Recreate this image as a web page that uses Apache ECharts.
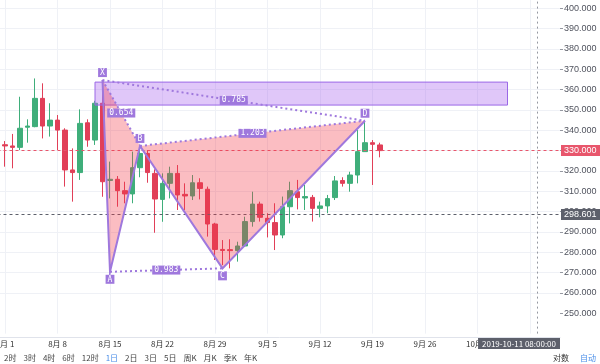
<!DOCTYPE html>
<html><head><meta charset="utf-8">
<script src="https://cdn.jsdelivr.net/npm/echarts@6/dist/echarts.min.js"></script>
<style>html,body{margin:0;padding:0;background:#fff}#c{width:600px;height:364px}</style>
</head><body><div id="c"></div>
<script>
// ---- data ----
const categories = [
'2019-07-31',
'2019-08-01','2019-08-02','2019-08-03','2019-08-04','2019-08-05','2019-08-06','2019-08-07','2019-08-08','2019-08-09','2019-08-10',
'2019-08-11','2019-08-12','2019-08-13','2019-08-14','2019-08-15','2019-08-16','2019-08-17','2019-08-18','2019-08-19','2019-08-20',
'2019-08-21','2019-08-22','2019-08-23','2019-08-24','2019-08-25','2019-08-26','2019-08-27','2019-08-28','2019-08-29','2019-08-30','2019-08-31',
'2019-09-01','2019-09-02','2019-09-03','2019-09-04','2019-09-05','2019-09-06','2019-09-07','2019-09-08','2019-09-09','2019-09-10',
'2019-09-11','2019-09-12','2019-09-13','2019-09-14','2019-09-15','2019-09-16','2019-09-17','2019-09-18','2019-09-19','2019-09-20',
'2019-09-21','2019-09-22','2019-09-23','2019-09-24','2019-09-25','2019-09-26','2019-09-27','2019-09-28','2019-09-29','2019-09-30',
'2019-10-01','2019-10-02','2019-10-03','2019-10-04','2019-10-05','2019-10-06','2019-10-07','2019-10-08','2019-10-09','2019-10-10',
'2019-10-11','2019-10-12','2019-10-13','2019-10-14'
];
const xTickDates = ['2019-08-01','2019-08-08','2019-08-15','2019-08-22','2019-08-29','2019-09-05','2019-09-12','2019-09-19','2019-09-26','2019-10-03','2019-10-10'];
const yTickValues = [250,260,270,280,290,300,310,320,330,340,350,360,370,380,390,400];
// [open, close, low, high] from 2019-07-31
const candles = [
[320.5,332.8,319.0,333.5],
[332.9,332.3,322.1,334.7],[332.3,331.6,321.3,338.2],[331.6,341.0,330.3,356.5],[341.5,342.1,333.9,345.4],[341.8,355.7,341.5,365.5],
[355.7,342.1,336.0,363.1],[342.1,345.0,336.9,353.3],[345.0,340.1,330.3,347.5],[340.1,320.5,312.3,341.0],[320.5,319.2,304.9,331.1],
[319.2,343.4,315.6,350.3],[343.7,335.2,331.9,345.4],[335.2,353.3,332.8,354.5],[353.3,314.7,307.3,364.7],[315.3,315.9,306.5,324.6],
[315.9,310.3,302.4,317.5],[310.3,308.7,304.1,314.7],[308.7,321.6,304.1,329.5],[321.6,328.6,316.9,332.3],[328.6,319.2,314.2,330.3],
[318.8,306.2,289.6,320.8],[306.0,313.9,295.0,318.8],[313.9,318.8,306.5,322.1],[318.8,308.2,300.8,322.9],[308.5,307.7,300.8,313.9],
[307.7,314.2,305.7,318.0],[314.2,311.4,306.0,316.4],[311.0,293.9,287.7,312.3],[293.9,281.4,276.2,294.5],[281.4,280.9,273.7,286.0],
[281.3,280.8,272.1,286.4],
[280.8,283.1,275.4,285.2],[283.1,295.1,282.8,297.5],[295.1,303.7,292.6,309.8],[303.7,297.2,295.1,304.9],[296.7,294.6,287.3,299.2],
[294.6,288.5,281.1,304.1],[288.5,302.4,286.9,307.4],[302.4,310.3,294.2,314.7],[309.8,306.9,301.1,315.6],[306.7,307.4,300.8,313.1],
[307.0,301.6,295.1,308.2],[301.6,302.8,297.2,304.9],[302.8,306.4,299.2,308.2],[306.9,315.1,305.7,317.5],[315.3,313.9,312.3,316.9],
[313.9,318.0,309.8,319.6],[318.0,329.5,313.9,340.1],[329.5,333.9,329.5,344.7],[333.9,333.1,313.1,335.2],[332.8,330.0,326.7,333.9]
];
const lastPrice = 330.0;
const refPrice = 298.601;
const crossDate = '2019-10-11';
const crossLabel = '2019-10-11 08:00:00';
// harmonic pattern points
const patternNames = ['X','A','B','C','D'];
const patternDates = ['2019-08-14','2019-08-15','2019-08-19','2019-08-30','2019-09-18'];
const patternPrices = [364.7,270.4,332.3,272.1,344.7];
const ratioPairs = [['X','B'],['A','C'],['B','D'],['X','D']];
const ratioLabels = ['0.654','0.983','1.203','0.785'];
const boxDates = ['2019-08-13','2019-10-07'];
const boxPrices = [363.7,352.4];
const periodLabels = ['2时','3时','4时','6时','12时','1日','2日','3日','5日','周K','月K','季K','年K'];
const activePeriod = '1日';

// ---- chart ----
const upColor = '#3fae7a', downColor = '#e13f58';
const purple = '#9f78dd';
const chart = echarts.init(document.getElementById('c'));
const idx = d => categories.indexOf(d);
const splitColors = [];
for (let v = 240; v <= 410; v += 10) splitColors.push(v < 250 ? 'rgba(0,0,0,0)' : '#eff1f6');

function renderPattern(params, api) {
  const pt = {};
  patternNames.forEach((n, i) => { pt[n] = api.coord([idx(patternDates[i]), patternPrices[i]]); });
  const b0 = api.coord([idx(boxDates[0]), boxPrices[0]]);
  const b1 = api.coord([idx(boxDates[1]), boxPrices[1]]);
  const ch = [];
  ch.push({type:'rect', shape:{x:b0[0], y:b0[1], width:b1[0]-b0[0], height:b1[1]-b0[1]},
    style:{fill:'rgba(165,95,238,0.35)', stroke:'#9a68e6', lineWidth:1}});
  ch.push({type:'polygon', shape:{points:[pt.X, pt.A, pt.B]}, style:{fill:'rgba(242,54,69,0.33)'}});
  ch.push({type:'polygon', shape:{points:[pt.B, pt.C, pt.D]}, style:{fill:'rgba(242,54,69,0.33)'}});
  ratioPairs.forEach((p, i) => {
    const a = pt[p[0]], b = pt[p[1]];
    ch.push({type:'line', shape:{x1:a[0], y1:a[1], x2:b[0], y2:b[1]},
      style:{stroke:purple, lineWidth:2, lineDash:[2,3]}});
  });
  ch.push({type:'polyline', shape:{points:patternNames.map(n => pt[n])},
    style:{stroke:purple, lineWidth:2, fill:null}});
  ratioPairs.forEach((p, i) => {
    const a = pt[p[0]], b = pt[p[1]];
    ch.push({type:'text', x:(a[0]+b[0])/2, y:(a[1]+b[1])/2,
      style:{text:ratioLabels[i], fill:'#fff', backgroundColor:purple, padding:[1,2,0,2],
        fontSize:8, fontFamily:'DejaVu Sans Mono', align:'center', verticalAlign:'middle'}});
  });
  patternNames.forEach((n, i) => {
    const p = pt[n];
    const up = (n === 'X' || n === 'B' || n === 'D');
    ch.push({type:'text', x:p[0], y:up ? p[1]-3 : p[1]+3,
      style:{text:n, fill:'#fff', backgroundColor:purple, padding:[1,2,0,2],
        fontSize:8, fontFamily:'DejaVu Sans Mono', align:'center', verticalAlign:up ? 'bottom' : 'top'}});
  });
  return {type:'group', children:ch};
}

const option = {
  animation: false,
  backgroundColor: '#fff',
  grid: {left: -2.5, right: 40, top: -12.03, bottom: 30.4, containLabel: false, outerBoundsMode: 'none'},
  xAxis: {
    type: 'category', data: categories, boundaryGap: false, offset: 3.4,
    axisLine: {show: true, lineStyle: {color: '#e0e3eb'}},
    axisTick: {show: false},
    axisLabel: {
      interval: (i, v) => xTickDates.includes(v),
      formatter: v => { const p = v.split('-'); return (+p[1]) + '月 ' + (+p[2]); },
      color: '#333', fontSize: 8, margin: 3, fontFamily: 'Noto Sans CJK SC'
    },
    splitLine: {show: true, interval: (i, v) => xTickDates.includes(v), lineStyle: {color: '#eff1f6'}}
  },
  yAxis: {
    type: 'value', position: 'right', min: 240, max: 410, interval: 10,
    axisLine: {show: false},
    axisTick: {show: true, length: 3, customValues: yTickValues, lineStyle: {color: '#9598a1'}},
    axisLabel: {
      customValues: yTickValues,
      formatter: v => (v < 250 || v > 400) ? '' : v.toFixed(3),
      color: '#50535e', fontSize: 9, margin: 4, fontFamily: 'Liberation Sans'
    },
    splitLine: {show: true, lineStyle: {color: splitColors}}
  },
  series: [
    {
      type: 'candlestick', data: candles, barWidth: 5, z: 2,
      itemStyle: {color: upColor, color0: downColor, borderColor: upColor, borderColor0: downColor, borderWidth: 1},
      markLine: {
        symbol: 'none', silent: true, animation: false,
        data: [
          {yAxis: lastPrice, lineStyle: {color: '#e8566c', type: [3,3], width: 1},
           label: {position: 'end', distance: 1, formatter: lastPrice.toFixed(3), color: '#fff',
             backgroundColor: '#e8566c', padding: [1,4,1,3], fontSize: 9, lineHeight: 9, fontFamily: 'Liberation Sans'}},
          {yAxis: refPrice, lineStyle: {color: '#5d606b', type: [3,3], width: 1},
           label: {position: 'end', distance: 1, formatter: refPrice.toFixed(3), color: '#fff',
             backgroundColor: '#5d606b', padding: [1,4,1,3], fontSize: 9, lineHeight: 9, fontFamily: 'Liberation Sans'}},
          {xAxis: crossDate, lineStyle: {color: '#9598a1', type: [2,3], width: 1}, label: {show: false}}
        ]
      }
    },
    {type: 'custom', data: [[0, 300]], z: 5, silent: true, clip: false, renderItem: renderPattern}
  ]
};
chart.setOption(option);

// crosshair date label & toolbar
const cx = chart.convertToPixel({xAxisIndex: 0}, crossDate);
const rightEdge = chart.convertToPixel({xAxisIndex: 0}, categories[categories.length - 1]);
const ctx = document.createElement('canvas').getContext('2d');
const fontStr = '8px "Noto Sans CJK SC"';
ctx.font = fontStr;
const lw = ctx.measureText(crossLabel).width + 8;
const lx = Math.min(cx + lw / 2, rightEdge) - lw;
const graphics = [
  {type: 'rect', z: 100, shape: {x: lx, y: 338, width: lw, height: 11}, style: {fill: '#5d606b'}},
  {type: 'text', z: 101, x: lx + lw / 2, y: 343.5, style: {text: crossLabel, fill: '#fff', font: fontStr, align: 'center', verticalAlign: 'middle'}}
];
let px = 4;
periodLabels.forEach(t => {
  graphics.push({type: 'text', z: 100, x: px, y: 358,
    style: {text: t, fill: t === activePeriod ? '#4a8ee8' : '#444', font: fontStr, verticalAlign: 'middle'}});
  px += ctx.measureText(t).width + 7;
});
graphics.push({type: 'text', z: 100, x: 553, y: 358, style: {text: '对数', fill: '#333', font: fontStr, verticalAlign: 'middle'}});
graphics.push({type: 'text', z: 100, x: 580, y: 358, style: {text: '自动', fill: '#4a8ee8', font: fontStr, verticalAlign: 'middle'}});
chart.setOption({graphic: graphics});
</script>
</body></html>
